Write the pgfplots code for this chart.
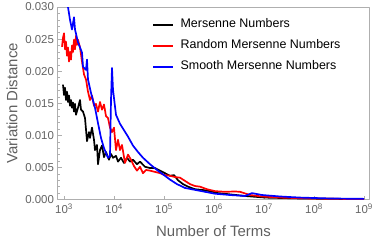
\documentclass[border=0pt]{standalone}
\usepackage{fontspec}
\setmainfont{Liberation Sans}
\usepackage{pgfplots}
\pgfplotsset{compat=1.18}
\usetikzlibrary{calc}
\definecolor{framegray}{RGB}{175,175,175}
\definecolor{ticklabgray}{RGB}{100,100,100}
\definecolor{labgray}{RGB}{95,95,95}
\definecolor{mred}{RGB}{255,0,0}
\definecolor{mblue}{RGB}{0,0,255}
\begin{document}
\begin{tikzpicture}
\begin{axis}[
  scale only axis, width=312bp, height=192.5bp,
  xmin=2.87, xmax=9.11, ymin=0, ymax=0.030,
  scaled y ticks=false, scaled x ticks=false,
  axis line style={framegray, line width=0.6pt},
  xtick={3,4,5,6,7,8,9},
  xticklabels={10\textsuperscript{3},10\textsuperscript{4},10\textsuperscript{5},10\textsuperscript{6},10\textsuperscript{7},10\textsuperscript{8},10\textsuperscript{9}},
  ytick={0,0.005,0.010,0.015,0.020,0.025,0.030},
  yticklabels={0.000,0.005,0.010,0.015,0.020,0.025,0.030},
  minor y tick num=4,
  tick pos=left, tick align=inside,
  major tick length=4bp, minor tick length=2.2bp,
  every tick/.style={framegray, line width=0.5pt},
  tick label style={font=\fontsize{11.5}{13}\selectfont, text=ticklabgray},
  xticklabel style={yshift=-1bp},
  xlabel={Number of Terms}, ylabel={Variation Distance},
  every axis x label/.style={at={(axis description cs:0.5,-0.19)}, anchor=base,
    font=\fontsize{15}{17}\selectfont, text=labgray},
  every axis y label/.style={at={(axis description cs:-0.146,0.5)}, rotate=90, anchor=center,
    font=\fontsize{15}{17}\selectfont, text=labgray},
  legend style={draw=none, fill=none, inner sep=0pt,
    at={(axis description cs:0.303,0.94)}, anchor=north west,
    font=\fontsize{12.5}{14}\selectfont, row sep=9bp, column sep=6bp,
    nodes={inner sep=0pt, text height=9bp, text depth=3bp}},
  legend cell align=left,
  legend image code/.code={\draw[#1, line width=2.4pt] (0bp,0bp) -- (20bp,0bp);},
  line join=round,
]
\addplot[black, line width=1.7pt] coordinates {
(2.98,0.0179)(3.00,0.0163)(3.02,0.0174)(3.04,0.0155)(3.06,0.0168)(3.08,0.0152)
(3.10,0.0162)(3.12,0.0146)(3.14,0.0155)(3.16,0.0143)(3.18,0.0151)(3.20,0.0137)
(3.22,0.0149)(3.24,0.0132)(3.28,0.0143)(3.32,0.0155)(3.34,0.0140)(3.38,0.0137)
(3.42,0.0127)(3.44,0.0109)(3.46,0.0091)(3.50,0.0105)(3.52,0.0096)(3.56,0.0112)
(3.60,0.0093)(3.62,0.0077)(3.66,0.0085)(3.68,0.0055)(3.72,0.0077)(3.76,0.0084)
(3.80,0.0066)(3.84,0.0074)(3.90,0.0062)(3.94,0.0071)(3.98,0.0065)(4.04,0.0068)
(4.08,0.0059)(4.14,0.0065)(4.20,0.0057)(4.26,0.0065)(4.32,0.0059)(4.38,0.0062)
(4.46,0.0055)(4.52,0.0059)(4.62,0.0051)(4.72,0.0049)(4.82,0.0049)(4.92,0.0045)
(5.02,0.0041)(5.12,0.0037)(5.20,0.0038)(5.28,0.0030)(5.38,0.0024)(5.48,0.0020)
(5.62,0.0016)(5.76,0.0015)(5.92,0.0013)(6.08,0.0010)(6.32,0.0008)(6.62,0.00055)
(7.02,0.0003)(7.72,0.00016)(9.00,0.00005)
};
\addlegendentry{Mersenne Numbers}
\addplot[mred, line width=1.7pt] coordinates {
(2.96,0.0238)(2.98,0.0252)(3.00,0.0259)(3.02,0.0234)(3.04,0.0246)(3.06,0.0224)
(3.08,0.0237)(3.10,0.0215)(3.12,0.0230)(3.14,0.0218)(3.16,0.0240)(3.18,0.0230)
(3.20,0.0249)(3.22,0.0234)(3.24,0.0255)(3.26,0.0241)(3.28,0.0249)(3.32,0.0237)
(3.36,0.0215)(3.40,0.0195)(3.44,0.0187)(3.48,0.0168)(3.52,0.0155)(3.56,0.0162)
(3.60,0.0146)(3.64,0.0149)(3.68,0.0137)(3.72,0.0152)(3.76,0.0140)(3.80,0.0148)
(3.84,0.0130)(3.88,0.0127)(3.92,0.0112)(3.96,0.0105)(4.00,0.0112)(4.04,0.0077)
(4.08,0.0093)(4.12,0.0077)(4.16,0.0085)(4.22,0.0057)(4.28,0.0070)(4.34,0.0062)
(4.40,0.0052)(4.46,0.0045)(4.52,0.0051)(4.58,0.0041)(4.64,0.0046)(4.72,0.0045)
(4.82,0.0043)(4.92,0.0041)(5.02,0.0038)(5.12,0.0037)(5.22,0.0035)(5.32,0.0034)
(5.42,0.0029)(5.52,0.0024)(5.62,0.0021)(5.72,0.0020)(5.86,0.0016)(6.02,0.0013)
(6.22,0.0012)(6.42,0.00125)(6.52,0.0012)(6.72,0.0007)(6.96,0.00047)(7.32,0.0003)
(7.92,0.00016)(9.00,0.00005)
};
\addlegendentry{Random Mersenne Numbers}
\addplot[mblue, line width=1.7pt] coordinates {
(3.06,0.0310)(3.12,0.0280)(3.16,0.0265)(3.20,0.0284)(3.22,0.0265)(3.28,0.0245)
(3.32,0.0237)(3.36,0.0229)(3.38,0.0207)(3.44,0.0202)(3.46,0.0218)(3.48,0.0187)
(3.54,0.0166)(3.62,0.0143)(3.68,0.0119)(3.74,0.0096)(3.80,0.0080)(3.88,0.0065)
(3.92,0.0068)(3.94,0.0155)(3.96,0.0205)(3.98,0.0171)(4.04,0.0132)(4.12,0.0118)
(4.20,0.0108)(4.28,0.0098)(4.38,0.0084)(4.48,0.0074)(4.58,0.0065)(4.72,0.0055)
(4.86,0.0046)(5.00,0.0038)(5.12,0.0031)(5.26,0.0024)(5.42,0.0018)(5.62,0.0015)
(5.82,0.0012)(6.02,0.0009)(6.32,0.0007)(6.62,0.00055)(6.76,0.0010)(6.96,0.0007)
(7.32,0.00047)(7.72,0.0003)(8.32,0.00016)(9.00,0.0001)
};
\addlegendentry{Smooth Mersenne Numbers}
\coordinate (sw) at (rel axis cs:0,0);
\coordinate (ne) at (rel axis cs:1,1);
\end{axis}
\pgfresetboundingbox
\path[use as bounding box] ($(sw)+(-57.5bp,-42.5bp)$) rectangle ($(ne)+(4.5bp,7bp)$);
\end{tikzpicture}
\end{document}
